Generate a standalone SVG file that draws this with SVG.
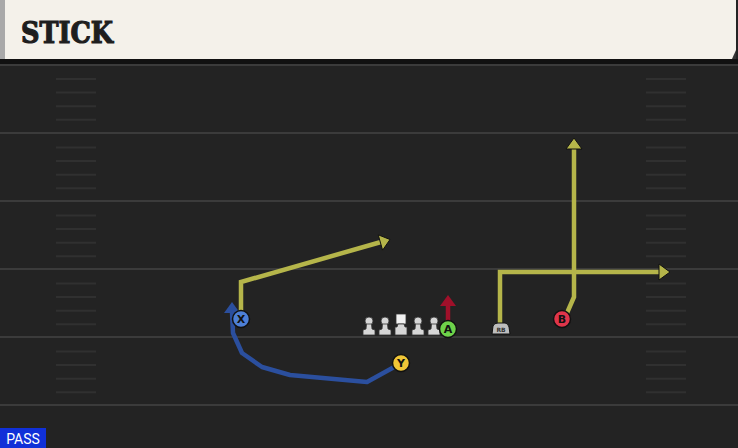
<svg xmlns="http://www.w3.org/2000/svg" width="738" height="448" viewBox="0 0 738 448">
<style>
.yl{stroke:#3b3b3b;stroke-width:2}
.hm{stroke:#303030;stroke-width:2}
.rt{fill:none;stroke:#b5b54a;stroke-width:4.5;stroke-linejoin:miter}
.blue{fill:none;stroke:#2b4f9e;stroke-width:4.5;stroke-linejoin:round}
.ahy{fill:#b5b54a;stroke:#111;stroke-width:1;stroke-linejoin:round}
.lbl{font-family:"DejaVu Sans",sans-serif;font-weight:bold;font-size:11px;text-anchor:middle}
.ol{fill:#d6d6d6;stroke:#333;stroke-width:0.8}
</style>
<defs>
<g id="hash">
<line class="hm" x1="56" y1="0" x2="96" y2="0"/>
<line class="hm" x1="56" y1="13.6" x2="96" y2="13.6"/>
<line class="hm" x1="56" y1="27.2" x2="96" y2="27.2"/>
<line class="hm" x1="56" y1="40.8" x2="96" y2="40.8"/>
<line class="hm" x1="646" y1="0" x2="686" y2="0"/>
<line class="hm" x1="646" y1="13.6" x2="686" y2="13.6"/>
<line class="hm" x1="646" y1="27.2" x2="686" y2="27.2"/>
<line class="hm" x1="646" y1="40.8" x2="686" y2="40.8"/>
</g>
<g id="lineman">
<circle cx="0" cy="-10" r="4" class="ol"/>
<path d="M-2.5,-7 L2.5,-7 L3,-2 L6,-1 L6,4 L-6,4 L-6,-1 L-3,-2 Z" class="ol"/>
</g>
</defs>
<rect width="738" height="448" fill="#232323"/>
<g id="field">
<line class="yl" x1="0" y1="65" x2="738" y2="65"/>
<line class="yl" x1="0" y1="133" x2="738" y2="133"/>
<line class="yl" x1="0" y1="201" x2="738" y2="201"/>
<line class="yl" x1="0" y1="269" x2="738" y2="269"/>
<line class="yl" x1="0" y1="337" x2="738" y2="337"/>
<line class="yl" x1="0" y1="405" x2="738" y2="405"/>
<use href="#hash" y="79"/>
<use href="#hash" y="147.5"/>
<use href="#hash" y="215.5"/>
<use href="#hash" y="283.5"/>
<use href="#hash" y="351.5"/>
</g>
<g id="header">
<rect x="0" y="59" width="738" height="5" fill="#111"/>
<rect x="0" y="0" width="736" height="59" fill="#f4f1ea"/>
<rect x="0" y="0" width="5" height="59" fill="#a9a9a9"/>
<path d="M732,59 L736,50 L736,59 Z" fill="#333"/>
<text x="21" y="43" font-family="DejaVu Serif" font-weight="bold" font-size="29" textLength="92" lengthAdjust="spacingAndGlyphs" fill="#1e1e1e" stroke="#1e1e1e" stroke-width="1.2">STICK</text>
</g>
<g id="connectors">
<polyline class="rt" points="241,312 241,282 381,242"/>
<polygon class="ahy" points="390,239.5 382.6,250.2 378.2,234.8"/>
<polyline class="rt" points="500,324 500,272 660,272"/>
<polygon class="ahy" points="670,272 659,280 659,264"/>
<polyline class="rt" points="567,313 574,297 574,149"/>
<polygon class="ahy" points="574,138 582,149 566,149"/>
<line x1="448" y1="322" x2="448" y2="305" stroke="#a0102a" stroke-width="4.5"/>
<polygon points="448,295 456,306 440,306" fill="#a0102a"/>
<polyline class="blue" points="396,366 367,382 290,375 262,367 242,353 233,333 232,312"/>
<polygon points="232,302 240,313 224,313" fill="#2b4f9e"/>
</g>
<g id="ol">
<use href="#lineman" x="369" y="331"/>
<use href="#lineman" x="385" y="331"/>
<g id="center"><rect x="396" y="314" width="10" height="10" fill="#f2f2f2" stroke="#333" stroke-width="0.8"/><path d="M398,324 L404,324 L405,327 L407,327 L407,335 L395,335 L395,327 L397,327 Z" class="ol"/></g>
<use href="#lineman" x="418" y="331"/>
<use href="#lineman" x="434" y="331"/>
</g>
<g id="rb">
<path d="M492,334 L493,326 Q494,323 498,323 L505,323 Q508,323 509,327 L510,334 Z" fill="#bdbdbd" stroke="#111" stroke-width="1"/>
<text x="501" y="332" font-family="DejaVu Sans" font-weight="bold" font-size="6" text-anchor="middle" fill="#333">RB</text>
</g>
<g id="nodeX">
<circle cx="241" cy="319" r="8.5" fill="#4d7fd6" stroke="#111" stroke-width="1.5"/>
<text x="241" y="323" class="lbl" fill="#111">X</text>
</g>
<g id="nodeA">
<circle cx="448" cy="329" r="8.5" fill="#6ed24a" stroke="#111" stroke-width="1.5"/>
<text x="448" y="333" class="lbl" fill="#111">A</text>
</g>
<g id="nodeB">
<circle cx="562" cy="319" r="8.5" fill="#e0354a" stroke="#111" stroke-width="1.5"/>
<text x="562" y="323" class="lbl" fill="#111">B</text>
</g>
<g id="nodeY">
<circle cx="401" cy="363" r="8.5" fill="#f0c637" stroke="#111" stroke-width="1.5"/>
<text x="401" y="367" class="lbl" fill="#111">Y</text>
</g>
<g id="pass">
<rect x="0" y="428" width="46" height="20" fill="#1030d8"/>
<text x="23" y="444" font-family="Roboto, sans-serif" font-size="14" text-anchor="middle" fill="#ffffff">PASS</text>
</g>
</svg>
